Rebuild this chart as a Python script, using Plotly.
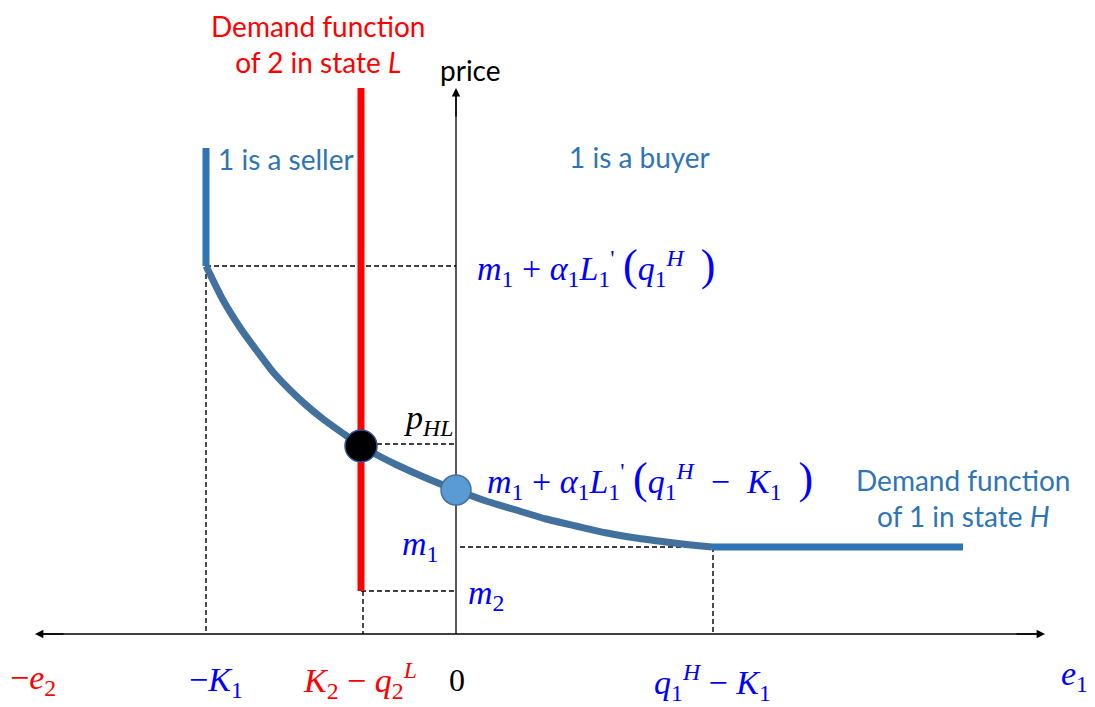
import plotly.graph_objects as go

# ---- data (diagram units: origin at the intersection of the axes) ----
x_negK1 = -250          # -K1
x_K2q2 = -95            # K2 - q2^L
x_q1K1 = 256            # q1^H - K1
x_right_end = 507       # end of flat part of demand of 1
y_m2 = 43
y_m1 = 87
y_price0 = 144          # m1 + a1 L1'(q1^H - K1)
y_pHL = 190
y_top_curve = 368       # m1 + a1 L1'(q1^H)
y_seller_top = 486
y_red_top = 546
y_axis_top = 546
x_axis_left = -421
x_axis_right = 589

curve_x = [-250, -233, -215, -199, -183, -166, -150, -133, -115, -95, -75, -59, -30,
           0, 30, 60, 90, 120, 151, 180, 210, 235, 256]
curve_y = [368, 334, 305, 283, 262, 244, 229, 215, 202, 188, 177, 169, 156,
           144, 133, 124, 115, 108, 101, 96, 92, 89, 87]

seller_x = [x_negK1, x_negK1]
seller_y = [y_seller_top, y_top_curve]
flat_x = [x_q1K1, x_right_end]
flat_y = [y_m1, y_m1]
red_x = [x_K2q2, x_K2q2]
red_y = [y_red_top, y_m2]

eq_point = (x_K2q2, 188)
zero_point = (0, y_price0)

CURVE = "#41719C"
BLUE_LINE = "#2E75B6"
TXT_BLUE = "#2F75B5"
MATH_BLUE = "#0000FF"
RED = "#FF0000"

fig = go.Figure()

def line(xs, ys, color="black", width=1.2, dash=None, shape="linear"):
    fig.add_trace(go.Scatter(x=xs, y=ys, mode="lines",
                             line=dict(color=color, width=width, dash=dash, shape=shape,
                                       smoothing=0.6 if shape == "spline" else None),
                             hoverinfo="skip"))

# dashed guides
dash = "5px,3px"
dw = 1.4
line([x_negK1, 0], [y_top_curve, y_top_curve], dash=dash, width=dw)
line([x_negK1, x_negK1], [y_top_curve, 0], dash=dash, width=dw)
line([x_K2q2, 0], [y_pHL, y_pHL], dash=dash, width=dw)
line([4, x_q1K1], [y_m1, y_m1], dash=dash, width=dw)
line([x_q1K1 + 1, x_q1K1 + 1], [y_m1, 0], dash=dash, width=dw)
line([x_K2q2, 0], [y_m2, y_m2], dash=dash, width=dw)
line([x_K2q2 + 2, x_K2q2 + 2], [y_m2, 0], dash=dash, width=dw)

# axes
line([x_axis_left + 5, x_axis_right - 5], [0, 0], color="black", width=1.6)
line([0, 0], [0, y_axis_top - 5], color="black", width=1.3)

# demand functions
line(seller_x, seller_y, color=BLUE_LINE, width=7)
line(flat_x, flat_y, color=BLUE_LINE, width=7)
line(curve_x, curve_y, color=CURVE, width=7, shape="spline")
line(red_x, red_y, color=RED, width=7)

# points
fig.add_trace(go.Scatter(x=[eq_point[0]], y=[eq_point[1]], mode="markers",
                         marker=dict(size=32, color="black", line=dict(color="#2F5597", width=1.5)),
                         hoverinfo="skip"))
fig.add_trace(go.Scatter(x=[zero_point[0]], y=[zero_point[1]], mode="markers",
                         marker=dict(size=30, color="#5B9BD5", line=dict(color="#41719C", width=1.5)),
                         hoverinfo="skip"))

ann = []
# arrow heads
for (xh, yh, xt, yt) in [(x_axis_right, 0, x_axis_right - 30, 0),
                         (x_axis_left, 0, x_axis_left + 30, 0),
                         (0, y_axis_top, 0, y_axis_top - 30)]:
    ann.append(dict(x=xh, y=yh, ax=xt, ay=yt, xref="x", yref="y", axref="x", ayref="y",
                    showarrow=True, arrowhead=2, arrowsize=1.2, arrowwidth=1.4,
                    arrowcolor="black", text=""))

SANS = "Lato"
SERIF = "Liberation Serif"

def text(x, y, t, color, size, family=SANS, xanchor="center", yanchor="middle", align="center"):
    ann.append(dict(x=x, y=y, xref="x", yref="y", text=t, showarrow=False,
                    font=dict(family=family, size=size, color=color),
                    xanchor=xanchor, yanchor=yanchor, align=align))

text(-138, 590, "Demand function<br>of 2 in state <i>L</i>", RED, 28)
text(-170, 475, "1 is a seller", TXT_BLUE, 28)
text(183, 477, "1 is a buyer", TXT_BLUE, 28)
text(507, 136, "Demand function<br>of 1 in state <i>H</i>", TXT_BLUE, 28)
text(14, 564, "price", "black", 28)

S = "&nbsp;"
P = '<span style="font-size:44px">'
text(19, 368,
     "<i>m</i><sub>1</sub>" + S + "+" + S + "<i>α</i><sub>1</sub><i>L</i><sub>1</sub><sup>'</sup>" + S + P + "(</span>"
     "<i>q</i><sub>1</sub><sup><i>H</i></sup>" + S + S + P + ")</span>",
     MATH_BLUE, 34, SERIF, xanchor="left")
text(29, 155,
     "<i>m</i><sub>1</sub>" + S + "+" + S + "<i>α</i><sub>1</sub><i>L</i><sub>1</sub><sup>'</sup>" + S + P + "(</span>"
     "<i>q</i><sub>1</sub><sup><i>H</i></sup>" + S + S + "−" + S + S + "<i>K</i><sub>1</sub>" + S + S + P + ")</span>",
     MATH_BLUE, 34, SERIF, xanchor="left")
text(-1, 214, "<i>p</i><sub><i>HL</i></sub>", "black", 34, SERIF, xanchor="right")
text(-36, 88, "<i>m</i><sub>1</sub>", MATH_BLUE, 34, SERIF)
text(30, 39, "<i>m</i><sub>2</sub>", MATH_BLUE, 34, SERIF)

text(-423, -46, "−<i>e</i><sub>2</sub>", RED, 34, SERIF)
text(-240, -48, "−<i>K</i><sub>1</sub>", MATH_BLUE, 34, SERIF)
text(-96, -46, "<i>K</i><sub>2</sub>" + S + "−" + S + "<i>q</i><sub>2</sub><sup><i>L</i></sup>", RED, 34, SERIF)
text(1, -46, "0", "black", 32, SERIF)
text(256, -48, "<i>q</i><sub>1</sub><sup><i>H</i></sup>" + S + "−" + S + "<i>K</i><sub>1</sub>", MATH_BLUE, 34, SERIF)
text(618, -42, "<i>e</i><sub>1</sub>", MATH_BLUE, 34, SERIF)

# the page adds an 8px body margin; shift ranges so that the axes land where they should
fig.update_layout(
    width=1095, height=707,
    margin=dict(l=0, r=0, t=0, b=0),
    paper_bgcolor="white", plot_bgcolor="white",
    showlegend=False,
    xaxis=dict(range=[-448, 647], visible=False, fixedrange=True),
    yaxis=dict(range=[-81, 626], visible=False, fixedrange=True),
    annotations=ann,
)

fig.write_html("out.html")
